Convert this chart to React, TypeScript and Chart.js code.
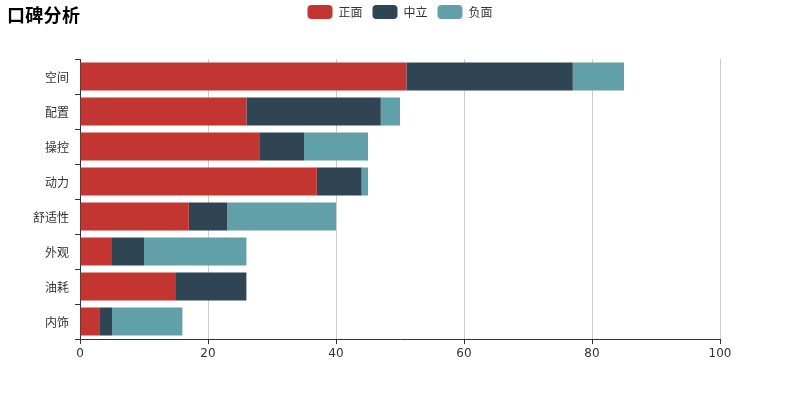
import { useEffect, useRef } from 'react';
import { Chart, registerables } from 'chart.js';

Chart.register(...registerables);

const categories = ['空间', '配置', '操控', '动力', '舒适性', '外观', '油耗', '内饰'];
const positive = [51, 26, 28, 37, 17, 5, 15, 3];
const neutral = [26, 21, 7, 7, 6, 5, 11, 2];
const negative = [8, 3, 10, 1, 17, 16, 0, 11];
const seriesNames = ['正面', '中立', '负面'];
const xMin = 0;
const xMax = 100;
const xStep = 20;
const titleText = '口碑分析';

const colors = ['#c23531', '#2f4554', '#61a0a8'];
const FONT = "'DejaVu Sans', 'Noto Sans CJK SC', sans-serif";
const CJK = "'Noto Sans CJK SC', 'DejaVu Sans', sans-serif";

export default function App() {
  const ref = useRef<HTMLCanvasElement | null>(null);

  useEffect(() => {
    if (!ref.current) return;
    const series = [positive, neutral, negative];
    const chart = new Chart(ref.current, {
      type: 'bar',
      data: {
        labels: categories,
        datasets: series.map((d, i) => ({
          label: seriesNames[i],
          data: d,
          backgroundColor: colors[i],
          borderWidth: 0,
          barPercentage: 0.8,
          categoryPercentage: 1,
        })),
      },
      options: {
        indexAxis: 'y',
        responsive: false,
        animation: false,
        devicePixelRatio: 1,
        layout: { padding: { top: -5, right: 0, bottom: 31, left: 0 } },
        plugins: {
          legend: {
            position: 'top',
            align: 'center',
            labels: {
              boxWidth: 25,
              boxHeight: 14,
              useBorderRadius: true,
              borderRadius: 4,
              padding: 10,
              color: '#333',
              font: { size: 12, family: CJK },
            },
          },
          subtitle: {
            display: true,
            text: '',
            weight: 500,
            padding: { top: 0, bottom: 15.6 },
            font: { size: 12, family: FONT },
          },
          tooltip: { enabled: false },
        },
        scales: {
          x: {
            stacked: true,
            min: xMin,
            max: xMax,
            ticks: { stepSize: xStep, color: '#333', font: { size: 12, family: FONT }, padding: 3 },
            grid: { color: '#cccccc', tickColor: '#333', tickLength: 5 },
            border: { color: '#333' },
            afterFit: (s: any) => {
              s.height = 30;
            },
          },
          y: {
            stacked: true,
            ticks: { color: '#333', font: { size: 12, family: CJK }, padding: 6, labelOffset: 1 },
            grid: { offset: true, drawOnChartArea: false, tickColor: '#333', tickLength: 5 },
            border: { color: '#333' },
            afterFit: (s: any) => {
              s.width = 80;
            },
          },
          yRight: {
            type: 'linear',
            position: 'right',
            display: true,
            ticks: { display: false },
            grid: { display: false, drawOnChartArea: false },
            border: { display: false },
            afterFit: (s: any) => {
              s.width = 80;
            },
          },
        },
      },
    });
    return () => chart.destroy();
  }, []);

  return (
    <div style={{ position: 'fixed', left: 0, top: 0, width: 800, height: 400, background: '#fff' }}>
      <canvas ref={ref} width={800} height={400} style={{ display: 'block' }} />
      <div
        style={{
          position: 'absolute',
          left: 7,
          top: 3,
          fontFamily: "'Noto Sans CJK SC', sans-serif",
          fontWeight: 'bold',
          fontSize: 18,
          letterSpacing: '0.3px',
          lineHeight: '22px',
          color: '#000',
        }}
      >
        {titleText}
      </div>
    </div>
  );
}
